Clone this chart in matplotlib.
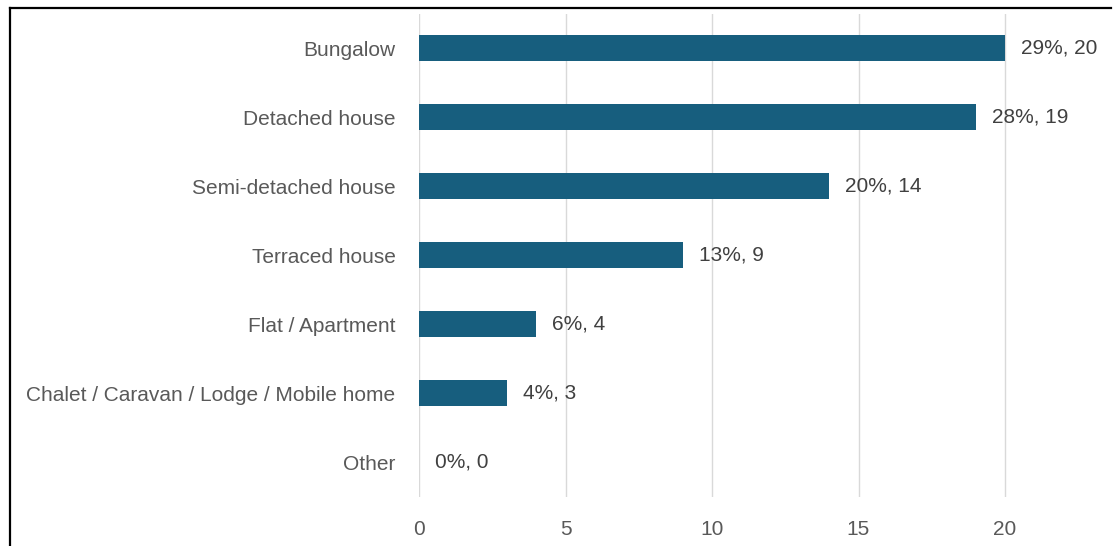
import matplotlib.pyplot as plt
from matplotlib.lines import Line2D

# data
categories = ["Bungalow", "Detached house", "Semi-detached house", "Terraced house",
              "Flat / Apartment", "Chalet / Caravan / Lodge / Mobile home", "Other"]
counts = [20, 19, 14, 9, 4, 3, 0]
percents = [29, 28, 20, 13, 6, 4, 0]
xticks = [0, 5, 10, 15, 20]

plt.rcParams['font.family'] = ['Liberation Sans', 'DejaVu Sans']

W, H = 1120, 546
fig = plt.figure(figsize=(W / 100, H / 100), dpi=100)

# plot area: x=0 at 419px, 20 at 1005px -> 25 at ~1151px (off picture)
left, right = 419 / W, 1151.5 / W
top, bottom = 1 - 13.5 / H, 1 - 496.5 / H
ax = fig.add_axes([left, bottom, right - left, top - bottom])

y = list(range(len(categories)))
ax.barh(y, counts, height=0.39, color="#175E7E", zorder=3)
for yi, c, p in zip(y, counts, percents):
    ax.annotate(f"{p}%, {c}", (c, yi), xytext=(11.5, 0), textcoords="offset points",
                ha="left", va="center", fontsize=15, color="#404040")

ax.set_xlim(0, 25)
ax.set_ylim(len(categories) - 0.5, -0.5)
ax.set_yticks(y)
ax.set_yticklabels(categories, fontsize=15, color="#595959")
ax.set_xticks(xticks)
ax.set_xticklabels([str(t) for t in xticks], fontsize=15, color="#595959")
ax.tick_params(axis="both", length=0)
ax.tick_params(axis="y", pad=17)
ax.tick_params(axis="x", pad=17)
ax.grid(axis="x", color="#D9D9D9", linewidth=1, zorder=0)
for s in ax.spines.values():
    s.set_visible(False)

# outer frame (top and left edges visible in the crop)
fig.add_artist(Line2D([9.5 / W, 1111 / W], [1 - 7.5 / H, 1 - 7.5 / H],
                      color="black", linewidth=1.6, transform=fig.transFigure))
fig.add_artist(Line2D([9.5 / W, 9.5 / W], [0, 1 - 7.5 / H],
                      color="black", linewidth=1.6, transform=fig.transFigure))

fig.savefig("out.png", dpi=100)
